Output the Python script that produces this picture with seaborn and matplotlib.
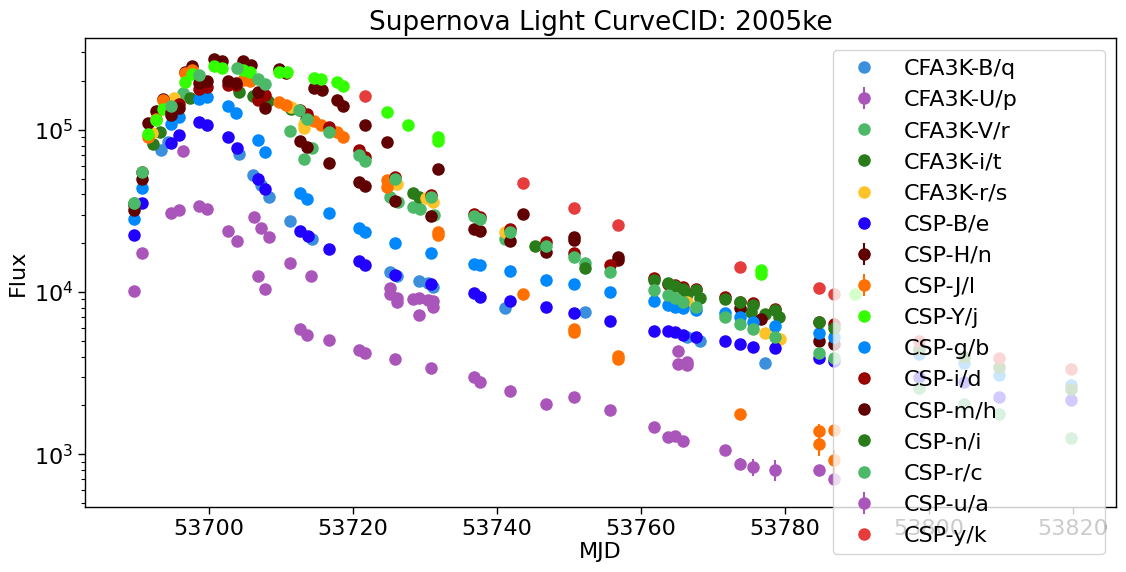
import matplotlib
matplotlib.use("Agg")
import matplotlib.pyplot as plt
import seaborn as sns
import pandas as pd

# ---------------- data ----------------
band_names = ["CFA3K-B/q", "CFA3K-U/p", "CFA3K-V/r", "CFA3K-i/t", "CFA3K-r/s",
              "CSP-B/e", "CSP-H/n", "CSP-J/l", "CSP-Y/j", "CSP-g/b", "CSP-i/d",
              "CSP-m/h", "CSP-n/i", "CSP-r/c", "CSP-u/a", "CSP-y/k"]
band_colors = ["#3B8FDD", "#AA55B9", "#4CB968", "#2A7B1A", "#FFC328",
               "#2200FF", "#600000", "#FF7000", "#33FF00", "#0088FF", "#990000",
               "#600000", "#2A7B1A", "#4CB968", "#AA55B9", "#E63C3C"]

cfa_B_mjd = [53693.3, 53694.3, 53704.2, 53706.1, 53707.2, 53708.4, 53711.3, 53714.3, 53725.2,
             53726.2, 53729.2, 53730.4, 53731.2, 53741.2, 53752.2, 53766.4, 53768.2, 53777.2]
cfa_B_flux = [75300, 84300, 71100, 52800, 45800, 38600, 27500, 21200, 13300,
              12600, 11700, 11400, 10700, 7970, 7530, 5270, 4960, 3640]

cfa_U_mjd = [53696.4, 53706.3, 53707.2, 53708.4, 53711.3, 53714.2, 53725.2, 53725.2, 53726.2, 53726.2,
             53728.3, 53729.2, 53730.4, 53731.2, 53731.2, 53729.2, 53765.2, 53765.2, 53766.4, 53766.4]
cfa_U_flux = [74300, 29000, 24800, 21800, 15100, 12600, 10600, 9720, 9200, 8680,
              9060, 9200, 8920, 8800, 8080, 7210, 4320, 3590, 3700, 3540]
cfa_U_err = [600, 300, 250, 220, 150, 130, 110, 100, 90, 90,
             90, 90, 90, 90, 80, 70, 330, 280, 240, 250]

cfa_V_mjd = [53696.4, 53711.3, 53713.2, 53714.3, 53725.2, 53726.3, 53728.3, 53729.4, 53731.3,
             53741.2, 53752.2]
cfa_V_flux = [169000, 98600, 66200, 77400, 38600, 35900, 33500, 32500, 29900, 21200, 15100]

cfa_i_mjd = [53692.2, 53693.2, 53697.4, 53704.2, 53706.1, 53708.2, 53711.4, 53713.5, 53728.3,
             53729.2, 53745.3, 53752.2, 53766.4, 53768.2, 53775.3, 53777.2, 53779.2]
cfa_i_flux = [81900, 97200, 158000, 171000, 162000, 151000, 135000, 117000, 40900,
              38600, 19200, 14100, 9720, 9200, 7530, 7310, 7020]

cfa_r_mjd = [53692.1, 53695.1, 53711.4, 53713.2, 53713.2, 53726.2, 53730.1, 53731.2, 53741.2,
             53766.4, 53777.2, 53779.4]
cfa_r_flux = [95800, 158000, 139000, 109000, 103000, 46400, 38100, 35900, 23500, 8680, 5560, 5160]

csp_B_mjd = [53689.6, 53690.7, 53694.8, 53695.8, 53698.6, 53699.7, 53702.6, 53703.9, 53706.8, 53707.8,
             53712.7, 53713.8, 53716.7, 53720.8, 53721.7, 53725.8, 53730.8, 53736.8, 53737.7, 53741.8,
             53746.8, 53750.7, 53755.7, 53761.8, 53763.8, 53764.8, 53765.9, 53767.7, 53771.7, 53773.8,
             53775.6, 53778.7, 53784.7, 53786.8, 53798.7, 53804.9, 53809.7, 53819.8]
csp_B_flux = [22500, 35500, 83200, 93100, 112000, 107000, 90500, 77400, 49800, 43200,
              23800, 22200, 18400, 15600, 14700, 12700, 11200, 9860, 9300, 8800,
              8080, 7420, 6620, 5740, 5740, 5650, 5430, 5270, 4960, 4780,
              4580, 4510, 3910, 3740, 2980, 2800, 2270, 2150]

csp_H_mjd = [53691.6, 53692.6, 53693.6, 53696.7, 53697.6, 53700.7, 53701.8, 53704.7, 53705.8, 53709.7,
             53710.7, 53714.6, 53715.7, 53717.8, 53718.7, 53721.7, 53724.7, 53731.8, 53743.7, 53750.7,
             53756.8, 53756.8, 53773.8, 53776.7, 53784.7, 53786.8]
csp_H_flux = [110500, 131000, 155000, 228000, 248000, 274000, 266000, 266000, 252000, 238000,
              225000, 182000, 175000, 153000, 141000, 107000, 84300, 57500, 30300, 21900,
              16400, 15800, 8000, 6840, 5000, 4780]
csp_H_err = [1500, 1500, 1800, 2500, 2500, 3000, 3000, 3000, 2800, 2600,
             2500, 2000, 2000, 1700, 1600, 1200, 1000, 700, 400, 300,
             250, 250, 200, 500, 150, 150]

csp_J_mjd = [53691.6, 53692.6, 53693.6, 53696.7, 53697.6, 53704.7, 53705.7, 53709.7, 53710.7, 53714.6,
             53715.6, 53717.8, 53718.7, 53724.7, 53724.7, 53731.8, 53731.8, 53743.7, 53750.7, 53750.7,
             53756.8, 53756.8, 53773.8, 53784.7, 53784.7, 53786.8, 53786.8]
csp_J_flux = [90500, 117000, 153000, 225000, 232000, 204000, 201000, 149000, 143000, 114000,
              107000, 97200, 90500, 49100, 44500, 23500, 22500, 9720, 5900, 5650,
              4020, 3850, 1770, 1390, 1160, 1410, 918]
csp_J_err = [900, 1200, 1500, 2200, 2300, 2000, 2000, 1500, 1400, 1100,
             1100, 1000, 900, 500, 450, 250, 250, 100, 60, 60,
             40, 40, 80, 150, 190, 100, 150]

csp_Y_mjd = [53691.6, 53692.6, 53693.6, 53696.7, 53697.6, 53700.7, 53701.8, 53704.7, 53705.7, 53709.7,
             53710.9, 53714.6, 53715.6, 53717.8, 53718.7, 53724.7, 53727.7, 53731.8, 53731.8, 53776.7,
             53776.7, 53789.7]
csp_Y_flux = [94500, 115000, 135000, 198000, 221000, 248000, 241000, 232000, 228000, 228000,
              228000, 209000, 207000, 198000, 187000, 129000, 107000, 85500, 90500, 13700,
              12900, 9720]

csp_g_mjd = [53689.6, 53690.7, 53694.8, 53695.8, 53698.6, 53699.7, 53702.6, 53703.8, 53706.8, 53707.8,
             53712.7, 53713.6, 53716.7, 53720.8, 53721.7, 53725.8, 53730.8, 53736.8, 53737.7, 53741.8,
             53746.8, 53750.7, 53755.7, 53761.8, 53763.8, 53764.8, 53765.9, 53767.7, 53771.7, 53773.8,
             53775.6, 53778.7, 53784.7, 53786.8, 53798.7, 53804.9, 53809.7, 53819.8]
csp_g_flux = [28300, 43900, 109000, 120000, 155000, 160000, 141000, 127000, 86700, 73200,
              40900, 37500, 30800, 24800, 23500, 20100, 17400, 14900, 14700, 13500,
              11900, 11200, 10000, 8800, 8310, 8080, 7970, 7740, 7420, 7020,
              6530, 6160, 5560, 5270, 4140, 3640, 3070, 2670]

csp_i_mjd = [53689.6, 53690.7, 53694.8, 53695.8, 53698.6, 53699.7, 53702.6, 53703.8, 53706.8, 53707.8,
             53712.7, 53713.6, 53716.7, 53720.8, 53721.7, 53725.8, 53730.8, 53736.8, 53737.7, 53741.8,
             53746.8, 53750.7, 53755.7, 53761.8, 53763.8, 53764.8, 53765.9, 53767.7, 53771.7, 53773.8,
             53775.6, 53778.7, 53784.7, 53786.8]
csp_i_flux = [34400, 55100, 129000, 145000, 179000, 184000, 190000, 190000, 153000, 165000,
              133000, 126000, 104000, 75300, 68200, 51300, 39700, 30300, 29000, 24500,
              20400, 17400, 14700, 12200, 11200, 11000, 10700, 10400, 9300, 8680,
              8560, 7850, 6530, 6330]

csp_m_mjd = [53689.6, 53690.7, 53694.8, 53695.8, 53698.6, 53699.7, 53702.6, 53703.8, 53706.8, 53707.8,
             53712.7, 53713.6, 53716.7, 53720.8, 53721.7, 53725.8, 53730.8, 53736.8, 53737.7, 53741.8,
             53746.8, 53750.7]
csp_m_flux = [32100, 49800, 124000, 137000, 195000, 201000, 201000, 195000, 171000, 137000,
              85500, 78600, 62600, 47800, 45100, 36500, 29500, 24500, 23800, 20700,
              17700, 20900]

csp_n_mjd = [53689.6, 53761.8, 53763.8, 53764.8, 53765.9, 53767.7, 53771.7, 53773.8, 53775.6, 53778.7,
             53784.7, 53786.8, 53798.7, 53804.9, 53809.7, 53819.8]
csp_n_flux = [35500, 11900, 11400, 10900, 10400, 10300, 9060, 8680, 8310, 7740,
              6530, 6000, 4450, 3970, 3450, 2520]

csp_r_mjd = [53689.6, 53690.7, 53694.8, 53698.6, 53703.9, 53706.8, 53707.8, 53712.5, 53713.6, 53716.7,
             53720.8, 53721.7, 53725.8, 53730.8, 53736.8, 53737.7, 53741.8, 53746.8, 53750.7, 53755.7,
             53761.8, 53763.8, 53764.8, 53765.9, 53767.7, 53771.7, 53773.8, 53775.6, 53778.7, 53784.7,
             53786.8, 53798.7, 53804.9, 53809.7, 53819.8]
csp_r_flux = [35500, 55100, 141000, 219000, 241000, 207000, 192000, 133000, 117000, 97200,
              70100, 64400, 49800, 38600, 29500, 28300, 23500, 19200, 16400, 13300,
              10300, 9580, 9200, 8680, 8080, 7020, 6330, 5900, 5270, 4200,
              3910, 2560, 2040, 1770, 1260]

csp_u_mjd = [53689.6, 53690.7, 53694.8, 53695.8, 53698.6, 53699.7, 53702.6, 53703.9, 53706.8, 53707.8,
             53712.7, 53713.6, 53716.7, 53720.8, 53721.7, 53725.8, 53730.8, 53736.8, 53737.7, 53741.8,
             53746.8, 53750.7, 53755.7, 53761.8, 53763.8, 53764.8, 53765.9, 53771.7, 53773.8, 53775.6,
             53778.7, 53784.7, 53786.8]
csp_u_flux = [10200, 17400, 30800, 32100, 33900, 32500, 23800, 20700, 12600, 10400,
              5900, 5430, 5050, 4380, 4200, 3850, 3400, 2980, 2780, 2460,
              2040, 2250, 1870, 1470, 1270, 1290, 1200, 1060, 876, 839,
              803, 803, 706]
csp_u_err = [100, 170, 300, 300, 300, 300, 240, 200, 130, 100,
             60, 55, 50, 45, 40, 40, 35, 30, 30, 25,
             25, 25, 25, 25, 25, 25, 25, 30, 75, 100,
             120, 35, 35]

csp_y_mjd = [53721.7, 53743.7, 53750.7, 53756.8, 53773.8, 53784.7, 53786.8, 53798.7, 53809.7, 53819.8]
csp_y_flux = [162000, 47100, 33000, 25900, 14300, 10600, 9720, 4960, 3900, 3360]

band_mjd = [cfa_B_mjd, cfa_U_mjd, cfa_V_mjd, cfa_i_mjd, cfa_r_mjd, csp_B_mjd, csp_H_mjd, csp_J_mjd,
            csp_Y_mjd, csp_g_mjd, csp_i_mjd, csp_m_mjd, csp_n_mjd, csp_r_mjd, csp_u_mjd, csp_y_mjd]
band_flux = [cfa_B_flux, cfa_U_flux, cfa_V_flux, cfa_i_flux, cfa_r_flux, csp_B_flux, csp_H_flux, csp_J_flux,
             csp_Y_flux, csp_g_flux, csp_i_flux, csp_m_flux, csp_n_flux, csp_r_flux, csp_u_flux, csp_y_flux]
band_err = [None, cfa_U_err, None, None, None, None, csp_H_err, csp_J_err,
            None, None, None, None, None, None, csp_u_err, None]

# ---------------- plot ----------------
sns.set_theme(style="ticks")
plt.rcParams["font.family"] = ["DejaVu Sans"]
for key in ["axes.edgecolor", "xtick.color", "ytick.color", "text.color", "axes.labelcolor"]:
    plt.rcParams[key] = "black"

fig = plt.figure(figsize=(11.26, 5.72), dpi=100)
ax = fig.add_axes([0.0755, 0.1136, 0.9155, 0.82])

frames = []
for name, mjd, flux in zip(band_names, band_mjd, band_flux):
    frames.append(pd.DataFrame({"band": name, "MJD": mjd, "Flux": flux}))
df = pd.concat(frames, ignore_index=True)

for name, color, err in zip(band_names, band_colors, band_err):
    sub = df[df["band"] == name]
    ax.errorbar(sub["MJD"], sub["Flux"], yerr=err, fmt="o", color=color,
                ms=8, elinewidth=1.5, capsize=0, label=name)

ax.set_yscale("log")
ax.set_xlim(53682.8, 53826)
ax.set_ylim(473, 3.68e5)
ax.set_xticks([53700, 53720, 53740, 53760, 53780, 53800, 53820])
ax.tick_params(axis="both", which="major", labelsize=16, length=5, width=1)
ax.tick_params(axis="both", which="minor", length=3, width=0.8)
ax.set_xlabel("MJD", fontsize=16, labelpad=2)
ax.set_ylabel("Flux", fontsize=16, labelpad=4)
ax.set_title("Supernova Light CurveCID: 2005ke", fontsize=19, pad=6)
for sp in ax.spines.values():
    sp.set_visible(True)
    sp.set_linewidth(1.0)

ax.legend(loc="upper left", bbox_to_anchor=(0.7255, 0.0, 0.2638, 0.9744), mode="expand",
          fontsize=16, framealpha=0.8, labelspacing=0.5,
          handletextpad=0.8, borderaxespad=0.0)

fig.savefig("out.png", dpi=100)
